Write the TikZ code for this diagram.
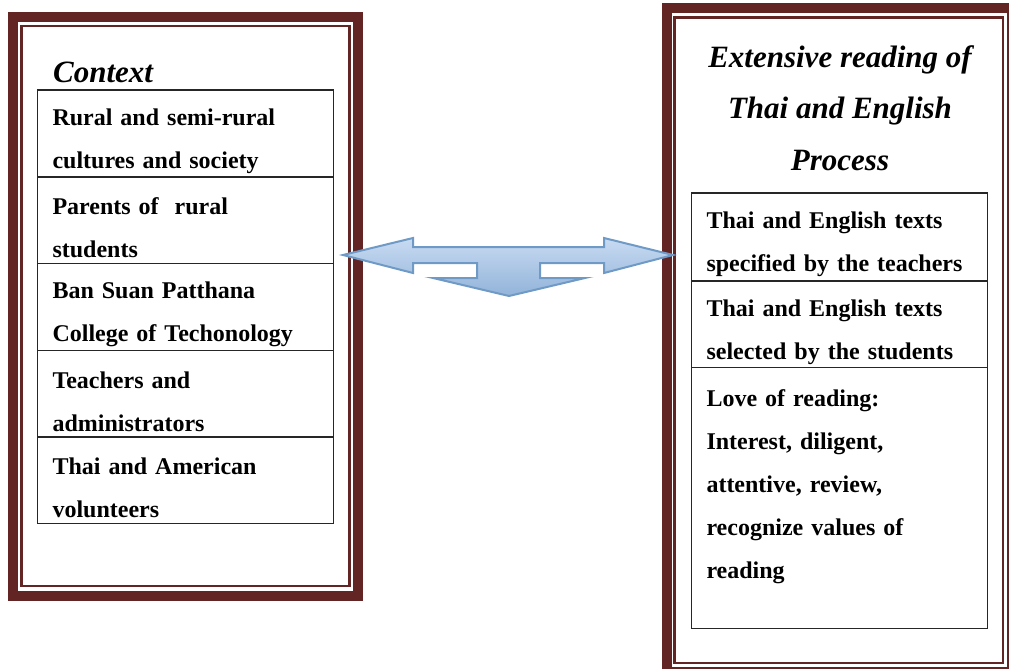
\documentclass[tikz,border=0pt]{standalone}
\usepackage{fontspec}
\setmainfont{Liberation Serif}
\usepackage{xcolor}
\usetikzlibrary{positioning}
\definecolor{maroon}{RGB}{99,37,35}
\definecolor{arrowline}{RGB}{111,154,198}
\definecolor{arrowtop}{RGB}{200,219,242}
\definecolor{arrowbot}{RGB}{146,179,217}
\tikzstyle{outerframe} = [draw=maroon, line width=10pt]
\tikzstyle{innerframe} = [draw=maroon, line width=2.5pt]
\tikzstyle{row} = [rectangle, draw=black!85, line width=1.2pt, outer sep=0pt, inner xsep=15pt, text width=266pt, align=left, font=\fontsize{24}{43}\selectfont\bfseries, execute at begin node={\rule{0pt}{32pt}}]
\tikzstyle{heading} = [inner sep=0pt, font=\fontsize{31}{51.5}\selectfont\bfseries\itshape]
\tikzstyle{bigarrow} = [draw=arrowline, line width=2pt, line join=miter, top color=arrowtop, bottom color=arrowbot]

\begin{document}
\begin{tikzpicture}[x=1pt, y=-1pt]
	\useasboundingbox (0,0) rectangle (1009,669);
	\clip (0,0) rectangle (1009,669);
	% frames
	\draw [outerframe] (13,17) rectangle (358,596);
	\draw [innerframe] (21.5,26) rectangle (349.5,586);
	\draw [outerframe] (667,8) rectangle (1012,672);
	\draw [innerframe] (674.5,17.3) rectangle (1003,663);
	% context
	\node (ctxhead) [heading, anchor=base west] at (53,82) {Context};
	\node (ctx1) [row, anchor=north, minimum height=87pt] at (185.5,90) {Rural and semi-rural\\cultures and society};
	\node (ctx2) [row, minimum height=86.5pt, below=0pt of ctx1] {Parents of~ rural\\students};
	\node (ctx3) [row, minimum height=86.5pt, below=0pt of ctx2] {Ban Suan Patthana\\College of Techonology};
	\node (ctx4) [row, minimum height=86.5pt, below=0pt of ctx3] {Teachers and\\administrators};
	\node (ctx5) [row, minimum height=86.5pt, below=0pt of ctx4] {Thai and American\\volunteers};
	% process
	\node (prochead) [heading, align=center, anchor=base] at (840,170) {Extensive reading of\\Thai and English\\Process};
	\node (proc1) [row, anchor=north, minimum height=88pt] at (839.5,193) {Thai and English texts\\specified by the teachers};
	\node (proc2) [row, minimum height=86pt, below=0pt of proc1] {Thai and English texts\\selected by the students};
	\node (proc3) [row, minimum height=261pt, below=0pt of proc2] {Love of reading:\\Interest, diligent,\\attentive, review,\\recognize values of\\reading\\\mbox{}};
	% arrow
	\draw [bigarrow] (343,255) -- (413,238) -- (413,247) -- (604,247) -- (604,238) -- (673,255) -- (604,273) -- (604,263) -- (540,263) -- (540,278) -- (585,278) -- (509,296) -- (433,278) -- (477,278) -- (477,263) -- (413,263) -- (413,273) -- cycle;
\end{tikzpicture}
\end{document}
